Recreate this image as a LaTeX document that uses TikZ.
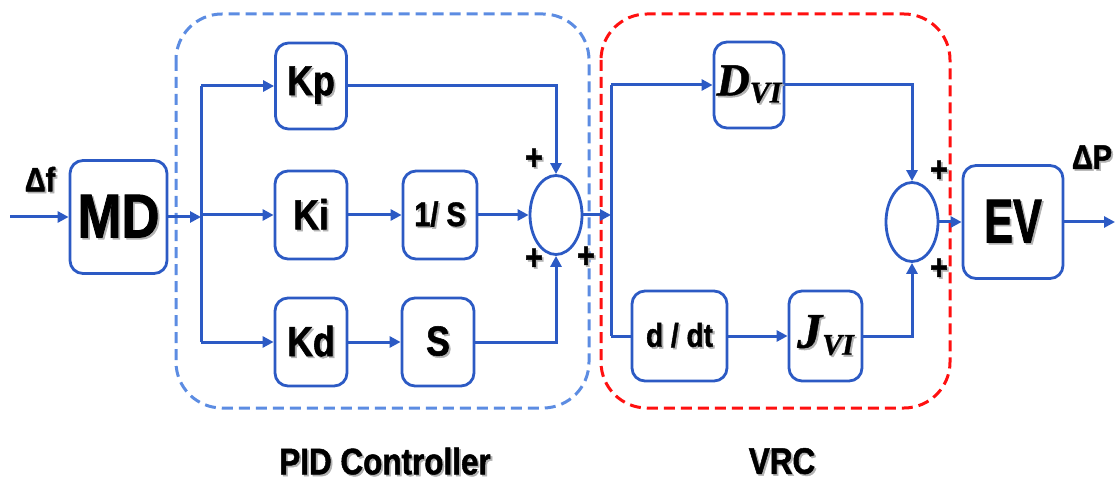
\documentclass[tikz,border=0pt]{standalone}
\usepackage{fontspec}
\usetikzlibrary{arrows.meta,shapes.geometric}
\newfontfamily\labf[FakeStretch=0.85,BoldFeatures={FakeBold=1.3}]{Liberation Sans}
\newfontfamily\serbi[BoldItalicFeatures={FakeBold=1}]{Liberation Serif}
\definecolor{cblue}{RGB}{44,90,196}
\definecolor{dblue}{RGB}{92,140,226}
\definecolor{dred}{RGB}{255,16,16}
\newcommand\shd[1]{\makebox[0pt][l]{\hspace{1.8pt}\raisebox{-1.8pt}{\color{black!30}#1}}#1}
\newcommand\fsz[1]{\fontsize{#1}{#1}\selectfont}
\tikzset{
  blk/.style={draw=cblue, line width=2.8pt, rounded corners=13pt, fill=white,
    align=center, inner sep=0pt, font=\labf\bfseries},
  conn/.style={draw=cblue, line width=3pt},
  arr/.style={conn, -{Triangle[length=11pt,width=11pt]}},
  sumnode/.style={draw=cblue, line width=2.8pt, ellipse, minimum width=52pt, minimum height=79pt, inner sep=0pt},
  plus/.style={font=\labf\bfseries\fsz{36}, inner sep=0pt},
  lbl/.style={font=\labf\bfseries\fsz{37}, inner sep=0pt},
  grp/.style={line width=3pt, dash pattern=on 11pt off 6pt, rounded corners=46pt}
}
\begin{document}
\begin{tikzpicture}[x=1pt,y=-1pt]
\useasboundingbox (0,0) rectangle (1115,486);
% group frames
\draw[grp, draw=dblue] (176,14) rectangle (589,408);
\draw[grp, draw=dred] (601,14) rectangle (950,408);
% blocks
\node[blk, minimum width=97pt, minimum height=113pt] (MD) at (118.5,217) {\fsz{62}\shd{MD}};
\node[blk, minimum width=71pt, minimum height=86pt] (Kp) at (311,86) {\fsz{42}\shd{Kp}};
\node[blk, minimum width=72pt, minimum height=88pt] (Ki) at (311,215) {\fsz{42}\shd{Ki}};
\node[blk, minimum width=72pt, minimum height=88pt] (Kd) at (311,342) {\fsz{42}\shd{Kd}};
\node[blk, minimum width=74pt, minimum height=88pt] (IS) at (440,215) {\fsz{34}\shd{1/ S}};
\node[blk, minimum width=72pt, minimum height=88pt] (S) at (438,342) {\fsz{42}\shd{S}};
\node[sumnode] (S1) at (556,215) {};
\node[blk, minimum width=70pt, minimum height=86pt] (Dvi) at (749,85) {\serbi\bfseries\itshape\shd{\fsz{46}D\raisebox{-7pt}{\fsz{30}VI}}};
\node[blk, minimum width=95pt, minimum height=90pt] (ddt) at (679.5,336) {\fsz{33}\shd{d / dt}};
\node[blk, minimum width=73pt, minimum height=90pt] (Jvi) at (825.5,336) {\serbi\bfseries\itshape\shd{\fsz{50}J\raisebox{-7pt}{\fsz{30}VI}}};
\node[sumnode] (S2) at (912,222) {};
\node[blk, minimum width=100pt, minimum height=113pt] (EV) at (1013,222) {\fsz{62}\shd{\scalebox{0.82}[1]{EV}}};
% coordinates
\coordinate (in) at (10,217);
\coordinate (j1) at (201,217);
\coordinate (j2) at (611,215);
\coordinate (out) at (1115,222);
% connectors
\draw[arr] (in) -- (MD.west);
\draw[arr] (MD.east) -- (j1);
\draw[conn] (j1 |- Kp.west) -- (j1 |- Kd.west);
\draw[arr] (j1 |- Kp.west) -- (Kp.west);
\draw[arr] (j1 |- Ki.west) -- (Ki.west);
\draw[arr] (j1 |- Kd.west) -- (Kd.west);
\draw[arr] (Kp.east) -| (S1.north);
\draw[arr] (Ki.east) -- (IS.west);
\draw[arr] (IS.east) -- (S1.west);
\draw[arr] (Kd.east) -- (S.west);
\draw[arr] (S.east) -| (S1.south);
\draw[arr] (S1.east) -- (j2);
\draw[conn] (j2 |- Dvi.west) -- (j2 |- ddt.west);
\draw[arr] (j2 |- Dvi.west) -- (Dvi.west);
\draw[conn] (j2 |- ddt.west) -- (ddt.west);
\draw[arr] (Dvi.east) -| (S2.north);
\draw[arr] (ddt.east) -- (Jvi.west);
\draw[arr] (Jvi.east) -| (S2.south);
\draw[arr] (S2.east) -- (EV.west);
\draw[arr] (EV.east) -- (out);
% signs
\node[plus] (p1) at (534,160) {\shd{+}};
\node[plus] (p2) at (534,260) {\shd{+}};
\node[plus] (p3) at (586,258) {\shd{+}};
\node[plus] (p4) at (939,172) {\shd{+}};
\node[plus] (p5) at (939,270) {\shd{+}};
% labels
\node[font=\labf\bfseries\fsz{34}, inner sep=0pt] (df) at (40,180) {\shd{Δf}};
\node[font=\labf\bfseries\fsz{34}, inner sep=0pt] (dP) at (1092,158) {\shd{ΔP}};
\node[lbl] (pid) at (385,462) {\shd{PID Controller}};
\node[lbl] (vrc) at (782,462) {\shd{VRC}};
\end{tikzpicture}
\end{document}
